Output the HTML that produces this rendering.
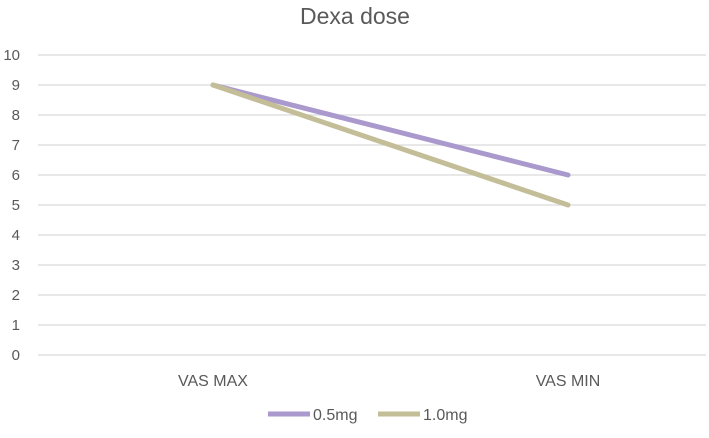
<!DOCTYPE html>
<html><head><meta charset="utf-8"><style>
body{margin:0;background:#fff;}
svg text{font-family:"Liberation Sans",sans-serif;}
</style></head><body>
<svg id="chart" width="709" height="433" xmlns="http://www.w3.org/2000/svg">
<text x="355" y="24" text-anchor="middle" font-size="23" fill="#595959">Dexa dose</text>
<g id="grid"></g><g id="lines"></g>
<g>
<line x1="268" y1="414" x2="310" y2="414" stroke="#aa99cc" stroke-width="5"/>
<text x="313" y="420" font-size="16" fill="#595959">0.5mg</text>
<line x1="378" y1="414" x2="420" y2="414" stroke="#c3bd98" stroke-width="5"/>
<text x="423" y="420" font-size="16" fill="#595959">1.0mg</text>
</g>
</svg>
<script>
const categories=["VAS MAX","VAS MIN"];
const series05=[9,6];
const series10=[9,5];
const yTicks=[0,1,2,3,4,5,6,7,8,9,10];
const NS="http://www.w3.org/2000/svg";
function y(v){return 355-v*30;}
function x(i){return 213+i*355;}
const grid=document.getElementById('grid'),lines=document.getElementById('lines');
yTicks.forEach(t=>{
 const l=document.createElementNS(NS,'line');
 l.setAttribute('x1',38);l.setAttribute('x2',706);l.setAttribute('y1',y(t));l.setAttribute('y2',y(t));
 l.setAttribute('stroke','#d9d9d9');l.setAttribute('stroke-width','1.3');
 
 
 grid.appendChild(l);
 const tx=document.createElementNS(NS,'text');
 tx.setAttribute('x',20);tx.setAttribute('y',y(t)+5);tx.setAttribute('text-anchor','end');
 tx.setAttribute('font-size','15');tx.setAttribute('fill','#595959');tx.textContent=t;
 
 
 grid.appendChild(tx);
});
categories.forEach((c,i)=>{
 const tx=document.createElementNS(NS,'text');
 tx.setAttribute('x',x(i));tx.setAttribute('y',386);tx.setAttribute('text-anchor','middle');
 tx.setAttribute('font-size','16');tx.setAttribute('fill','#595959');tx.textContent=c;
 
 
 grid.appendChild(tx);
});
function draw(vals,color,name){
 const p=document.createElementNS(NS,'polyline');
 p.setAttribute('points',vals.map((v,i)=>x(i)+','+y(v)).join(' '));
 p.setAttribute('fill','none');p.setAttribute('stroke',color);p.setAttribute('stroke-width','5');
 p.setAttribute('stroke-linecap','round');p.setAttribute('stroke-linejoin','round');
 
 
 lines.appendChild(p);
}
draw(series05,'#aa99cc','series-0-5mg');
draw(series10,'#c3bd98','series-1-0mg');
</script>
</body></html>
